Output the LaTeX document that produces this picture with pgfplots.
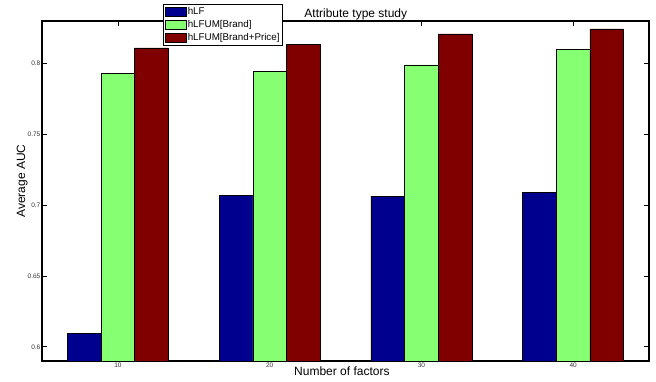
\documentclass[border=0pt]{standalone}
\usepackage{pgfplots}
\pgfplotsset{compat=1.18}
\usepackage{fontspec}
\setmainfont{Liberation Sans}
\definecolor{jblue}{rgb}{0,0,0.5625}
\definecolor{jgreen}{rgb}{0.53,1,0.45}
\definecolor{jred}{rgb}{0.5,0,0}
\begin{document}
\begin{tikzpicture}
\path[use as bounding box] (0,0) rectangle (656pt,381pt);
\begin{axis}[
  at={(42pt,20pt)}, anchor=south west,
  scale only axis, width=607pt, height=340pt,
  xmin=5, xmax=45, ymin=0.59, ymax=0.83,
  xtick={10,20,30,40},
  ytick={0.6,0.65,0.7,0.75,0.8},
  yticklabels={0.6,0.65,0.7,0.75,0.8},
  tick align=inside, major tick length=5pt,
  tick style={black, line width=0.7pt},
  axis line style={black, line width=1.3pt},
  /pgf/number format/assume math mode=true,
  tick label style={font=\fontsize{6.5}{7}\selectfont, text=black!80},
  yticklabel style={inner sep=1.5pt},
  xticklabel style={inner sep=2pt},
  every axis title shift=0pt,
  title={Attribute type study},
  title style={at={(axis description cs:0.517,1)}, anchor=base, yshift=3.4pt, inner sep=0pt, font=\fontsize{12}{14}\selectfont},
  xlabel={Number of factors},
  xlabel style={at={(axis description cs:0.494,-0.044)}, anchor=base, yshift=0pt, inner sep=0pt, font=\fontsize{12}{14}\selectfont},
  ylabel={Average AUC},
  ylabel style={at={(axis description cs:-0.028,0.529)}, anchor=base, inner sep=0pt, font=\fontsize{12}{14}\selectfont},
  legend style={at={(axis description cs:0.199,1.049)}, anchor=north west,
    font=\fontsize{9.8}{10}\selectfont, draw=black, line width=1pt,
    inner sep=2pt, row sep=2.2pt, cells={anchor=west},
    nodes={inner sep=1pt}, fill=white},
  legend image code/.code={\draw[#1, draw=black, line width=0.5pt] (0pt,-4.5pt) rectangle (21pt,4.5pt);},
]
\addplot[ybar, bar width=2.22, bar shift=-2.22, fill=jblue, draw=black, line width=0.5pt]
  coordinates {(10,0.6096) (20,0.7070) (30,0.7063) (40,0.7089)};
\addplot[ybar, bar width=2.22, bar shift=0, fill=jgreen, draw=black, line width=0.5pt]
  coordinates {(10,0.7930) (20,0.7944) (30,0.7990) (40,0.8100)};
\addplot[ybar, bar width=2.22, bar shift=2.22, fill=jred, draw=black, line width=0.5pt]
  coordinates {(10,0.8110) (20,0.8136) (30,0.8210) (40,0.8244)};
\legend{hLF, hLFUM[Brand], hLFUM[Brand+Price]}
\end{axis}
\end{tikzpicture}
\end{document}
